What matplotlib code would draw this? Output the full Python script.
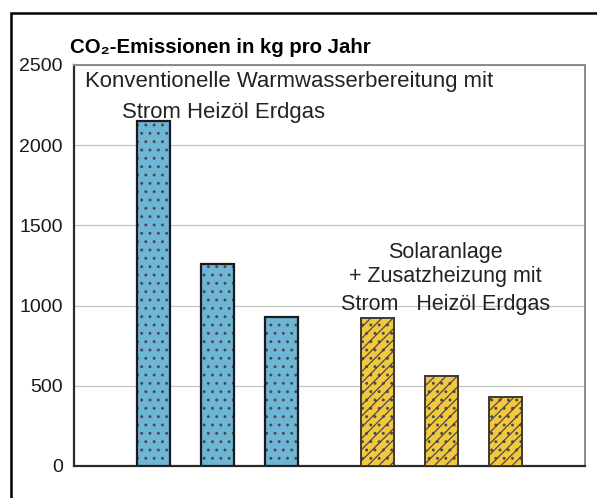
import matplotlib
matplotlib.use('Agg')
import matplotlib.pyplot as plt
import matplotlib.patches as patches
import numpy as np

plt.rcParams['font.family'] = ['Liberation Sans', 'DejaVu Sans']
plt.rcParams['hatch.linewidth'] = 0.9

# data (kg CO2 per year)
heat_sources = ['Strom', 'Heizöl', 'Erdgas']
konventionell = [2150, 1260, 930]
solar = [920, 560, 430]
yticks = [0, 500, 1000, 1500, 2000, 2500]

pos_konv = np.array([1, 2, 3])
pos_solar = np.array([4.5, 5.5, 6.5])

fig = plt.figure(figsize=(5.97, 4.98), dpi=100)
ax = fig.add_axes([0.124, 0.0643, 0.856, 0.8052])

# outer frame of the scan, runs off the right/bottom edge
fig.patches.append(patches.Rectangle((11/597, -0.1), 1.2, (498-13)/498 + 0.1,
                                     transform=fig.transFigure, fill=False,
                                     edgecolor='black', lw=1.8))

# fill + hatch (hatch takes the edge colour), then the dark outline on top
ax.bar(pos_konv, konventionell, width=0.52, color='#6eb5d6', edgecolor='#4a4a4a',
       lw=0, hatch='..', zorder=3)
ax.bar(pos_konv, konventionell, width=0.52, fill=False, edgecolor='#1a1a1a',
       lw=1.6, zorder=4)
ax.bar(pos_solar, solar, width=0.52, color='#f3c83e', edgecolor='#4a4a4a',
       lw=0, hatch='///..', zorder=3)
ax.bar(pos_solar, solar, width=0.52, fill=False, edgecolor='#3a3a3a',
       lw=1.4, zorder=4)

ax.set_xlim(-0.24, 7.74)
ax.set_ylim(0, 2500)
ax.set_yticks(yticks)
ax.set_xticks([])
ax.tick_params(axis='y', length=0, pad=8, labelsize=14, labelcolor='#1a1a1a')
ax.grid(axis='y', color='#c4c4c4', lw=0.9, zorder=0)
for side in ['left', 'bottom']:
    ax.spines[side].set_color('#2a2a2a')
    ax.spines[side].set_linewidth(1.6)
for side in ['top', 'right']:
    ax.spines[side].set_color('#8a8a8a')
    ax.spines[side].set_linewidth(1.4)

fig.text(70/597, 1 - 53/498, 'CO₂-Emissionen in kg pro Jahr', fontsize=14.7,
         fontweight='bold', ha='left', va='baseline')

ax.text(-0.068, 2362, 'Konventionelle Warmwasserbereitung mit', fontsize=15.9,
        ha='left', va='baseline', color='#222222')
ax.text(0.51, 2169, ' '.join(heat_sources), fontsize=15.9,
        ha='left', va='baseline', color='#222222')

ax.text(5.56, 1294, 'Solaranlage', fontsize=15.5, ha='center', va='baseline', color='#222222')
ax.text(5.56, 1144, '+ Zusatzheizung mit', fontsize=15.5, ha='center', va='baseline', color='#222222')
ax.text(5.56, 975, 'Strom   Heizöl Erdgas', fontsize=15.5, ha='center', va='baseline', color='#222222')

fig.savefig('out.png', dpi=100)
